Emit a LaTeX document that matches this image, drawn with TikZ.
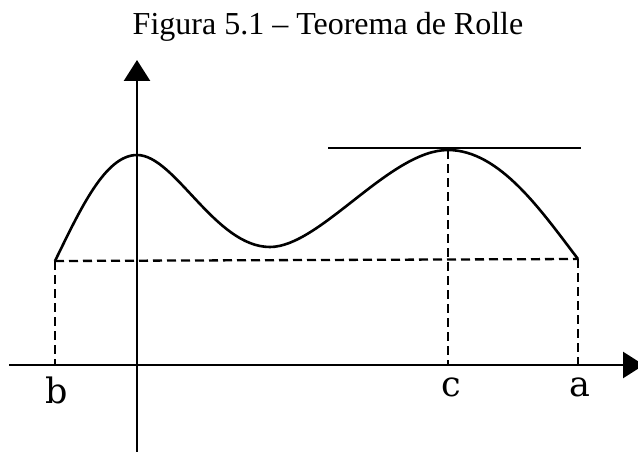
\documentclass[tikz,border=0pt]{standalone}
\usepackage{fontspec}
\setmainfont{Liberation Serif}
\newfontfamily\labelfont{DejaVu Serif}
\usetikzlibrary{arrows.meta}
\tikzset{
  axis/.style={line width=2.6pt,-{Triangle[length=21pt,width=26pt]}},
  curve/.style={line width=2.6pt},
  guide/.style={line width=2.3pt,dash pattern=on 9pt off 5pt},
  ptlabel/.style={anchor=base,inner sep=0pt,font=\labelfont\fontsize{35}{40}\selectfont},
  titlestyle/.style={anchor=base,inner sep=0pt,font=\fontsize{32}{38}\selectfont}
}
\begin{document}
\begin{tikzpicture}[x=1pt,y=-1pt]
\useasboundingbox (0,0) rectangle (638,452);
\node[titlestyle] (title) at (328,35) {Figura 5.1 – Teorema de Rolle};
% points
\coordinate (B) at (55,261);
\coordinate (P1) at (137,155);
\coordinate (M) at (270,247);
\coordinate (C) at (448,150);
\coordinate (A) at (578,259);
\coordinate (Bx) at (55,365);
\coordinate (Cx) at (448,365);
\coordinate (Ax) at (578,365);
\coordinate (xs) at (9,365);
\coordinate (xe) at (644,365);
\coordinate (ys) at (137,452);
\coordinate (ye) at (137,60);
\coordinate (tl) at (328,148);
\coordinate (tr) at (581,148);
% axes
\draw[axis] (xs) -- (xe);
\draw[axis] (ys) -- (ye);
% dashed guides
\draw[guide] (B) -- (A);
\draw[guide] (B) -- (Bx);
\draw[guide] (C) -- (Cx);
\draw[guide] (A) -- (Ax);
% tangent
\draw[curve] (tl) -- (tr);
% curve
\draw[curve,line join=round] (B) .. controls (80,210) and (105,155) .. (P1)
  .. controls (175,155) and (215,247) .. (M)
  .. controls (320,247) and (390,150) .. (C)
  .. controls (500,150) and (542,212) .. (A);
% labels
\node[ptlabel] (lb) at (57,403) {b};
\node[ptlabel] (lc) at (451,396) {c};
\node[ptlabel] (la) at (580,396) {a};
\end{tikzpicture}
\end{document}
